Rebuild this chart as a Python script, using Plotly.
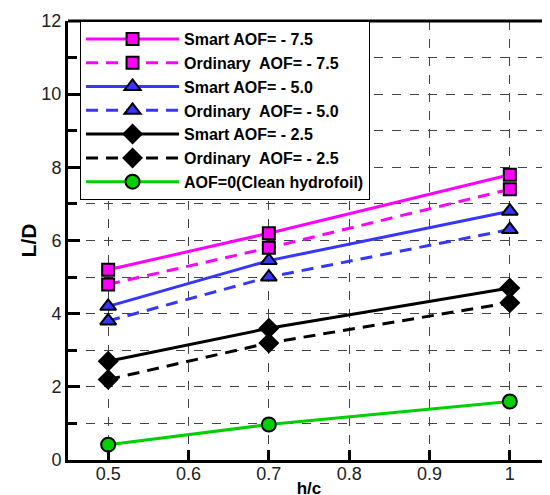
import plotly.graph_objects as go

h_c = [0.5, 0.7, 1.0]
smart_75 = [5.2, 6.2, 7.8]
ord_75 = [4.8, 5.8, 7.4]
smart_50 = [4.2, 5.45, 6.8]
ord_50 = [3.8, 5.0, 6.3]
smart_25 = [2.7, 3.6, 4.7]
ord_25 = [2.2, 3.2, 4.3]
clean = [0.42, 0.97, 1.6]

names = ["Smart AOF= - 7.5", "Ordinary\u00a0 AOF= - 7.5",
         "Smart AOF= - 5.0", "Ordinary\u00a0 AOF= - 5.0",
         "Smart AOF= - 2.5", "Ordinary\u00a0 AOF= - 2.5",
         "AOF=0(Clean hydrofoil)"]

MAG = "#ff00ff"
BLU = "#3636ff"
BLK = "#000000"
GRN = "#00d000"

series = [
    (smart_75, MAG, "solid", "square", 12, MAG),
    (ord_75, MAG, "12px,8px", "square", 12, MAG),
    (smart_50, BLU, "solid", "triangle-up", 14, BLU),
    (ord_50, BLU, "12px,8px", "triangle-up", 14, BLU),
    (smart_25, BLK, "solid", "diamond", 14, BLK),
    (ord_25, BLK, "12px,8px", "diamond", 14, BLK),
    (clean, GRN, "solid", "circle", 14, GRN),
]

fig = go.Figure()
for (vals, col, dash, sym, size, fill), name in zip(series, names):
    fig.add_trace(go.Scatter(
        x=h_c, y=vals, name=name, mode="lines+markers",
        line=dict(color=col, width=3, dash=dash),
        marker=dict(symbol=sym, size=size, color=fill,
                    line=dict(color="black", width=2)),
    ))

gridcol = "#444444"
fig.update_layout(
    width=550, height=495,
    margin=dict(l=60, r=8, t=13, b=43),
    paper_bgcolor="white", plot_bgcolor="white",
    font=dict(family="Liberation Sans, Arial, sans-serif", color="#222222"),
    showlegend=True,
    legend=dict(
        x=0.025, y=1.0, xanchor="left", yanchor="top",
        bgcolor="white", bordercolor="black", borderwidth=1,
        font=dict(size=16, color="black", family="Liberation Sans, Arial, sans-serif", weight="bold"),
        itemwidth=93, tracegroupgap=0,
    ),
    xaxis=dict(
        range=[0.45, 1.05],
        tickvals=[0.5, 0.6, 0.7, 0.8, 0.9, 1.0],
        ticktext=["0.5", "0.6", "0.7", "0.8", "0.9", "1"],
        ticks="inside", ticklen=10, tickwidth=3, tickcolor="black",
        showline=True, linecolor="black", linewidth=3,
        showgrid=True, gridcolor=gridcol, gridwidth=1, griddash="dash",
        zeroline=False, automargin=False,
        ticklabelstandoff=-5,
        tickfont=dict(size=18, color="#222222"),
        title=dict(text="<b>h/c</b>", font=dict(size=17, color="black"), standoff=0),
    ),
    yaxis=dict(
        range=[0, 12], tick0=0, dtick=2,
        ticks="inside", ticklen=12, tickwidth=3, tickcolor="black",
        showline=True, linecolor="black", linewidth=3,
        showgrid=True, gridcolor=gridcol, gridwidth=1, griddash="dash",
        zeroline=False, automargin=False,
        minor=dict(dtick=1, ticks="inside", ticklen=9, tickwidth=3, tickcolor="black",
                   showgrid=True, gridcolor=gridcol, gridwidth=1, griddash="dash"),
        tickfont=dict(size=18, color="#222222"),
        title=dict(text="<b>L/D</b>", font=dict(size=21, color="black"), standoff=0),
    ),
    shapes=[
        dict(type="line", xref="paper", yref="paper", x0=0, x1=1, y0=1, y1=1,
             line=dict(color="black", width=3)),
        dict(type="line", xref="paper", yref="paper", x0=0.999, x1=0.999, y0=0, y1=1,
             line=dict(color="#888888", width=1)),
    ],
)

fig.write_html("out.html")
